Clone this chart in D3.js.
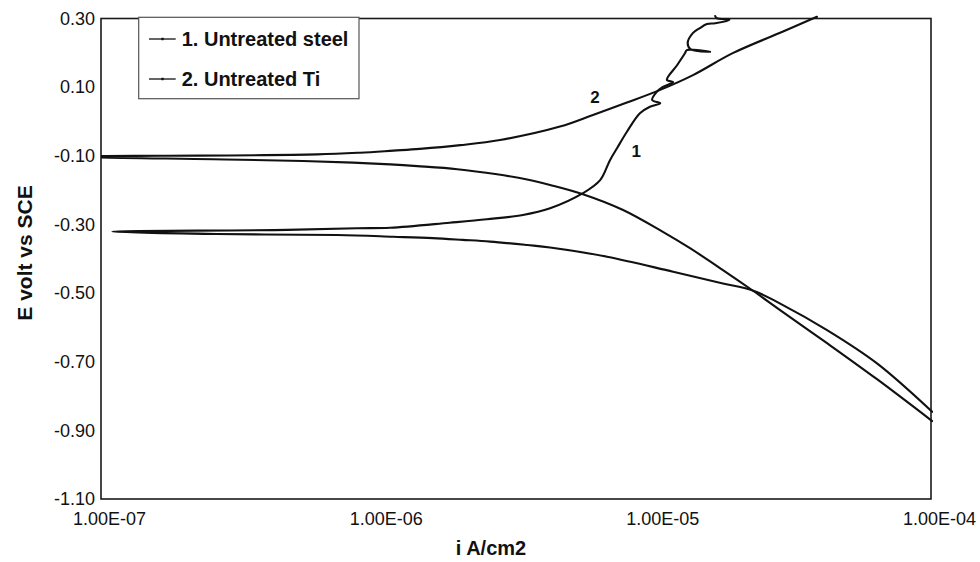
<!DOCTYPE html>
<html>
<head>
<meta charset="utf-8">
<script src="https://cdn.jsdelivr.net/npm/d3@7"></script>
<style>
  html, body { margin: 0; padding: 0; background: #fff; }
  svg { display: block; font-family: "Liberation Sans", Arial, Helvetica, sans-serif; }
</style>
</head>
<body>
<svg id="chart" width="980" height="562"></svg>
<script>
// Potentiodynamic polarization curves: current density (A/cm2) vs potential (V vs SCE)

// 1. Untreated steel: scan from cathodic to anodic
const steelCurrent = [
  1.01e-4, 6.38e-5, 4.21e-5, 2.84e-5, 2.28e-5, 1.77e-5, 1.17e-5, 6.75e-6, 4.20e-6, 3.47e-6,
  2.55e-6, 2.03e-6, 1.58e-6, 1.14e-6, 7.13e-7, 2.62e-7, 1.10e-7,
  4.70e-7, 8.41e-7, 1.11e-6, 1.82e-6, 2.48e-6, 3.35e-6, 4.20e-6, 5.52e-6, 6.37e-6,
  6.92e-6, 7.33e-6, 7.96e-6, 8.87e-6, 9.64e-6, 1.05e-5, 9.82e-6, 1.02e-5, 1.07e-5, 1.17e-5,
  1.11e-5, 1.21e-5, 1.29e-5, 1.31e-5, 1.59e-5, 1.35e-5, 1.32e-5, 1.38e-5, 1.46e-5, 1.55e-5,
  1.66e-5, 1.87e-5, 1.68e-5, 1.66e-5
];
const steelPotential = [
  -0.846, -0.705, -0.608, -0.530, -0.493, -0.472, -0.438, -0.394, -0.367, -0.360,
  -0.350, -0.345, -0.340, -0.336, -0.331, -0.328, -0.321,
  -0.316, -0.311, -0.3095, -0.295, -0.285, -0.2725, -0.253, -0.209, -0.171,
  -0.112, -0.078, -0.030, 0.024, 0.043, 0.053, 0.0625, 0.086, 0.100, 0.115,
  0.121, 0.1645, 0.1986, 0.208, 0.203, 0.211, 0.229, 0.258, 0.272, 0.284,
  0.286, 0.296, 0.301, 0.307
];

// 2. Untreated Ti: scan from cathodic to anodic
const tiCurrent = [
  1.01e-4, 6.38e-5, 4.21e-5, 2.84e-5, 2.28e-5, 1.77e-5, 1.35e-5, 1.07e-5, 7.71e-6, 5.52e-6,
  4.20e-6, 3.47e-6, 2.70e-6, 1.94e-6, 1.39e-6, 1.11e-6, 8.15e-7, 5.37e-7, 2.54e-7, 1.00e-7,
  9.00e-8,
  1.00e-7, 1.67e-7, 6.04e-7, 8.63e-7, 1.14e-6, 1.42e-6, 1.99e-6, 2.77e-6, 4.56e-6, 6.00e-6,
  7.96e-6, 1.05e-5, 1.38e-5, 1.92e-5, 2.92e-5, 3.87e-5
];
const tiPotential = [
  -0.873, -0.751, -0.646, -0.549, -0.494, -0.433, -0.370, -0.321, -0.258, -0.212,
  -0.185, -0.169, -0.154, -0.139, -0.130, -0.125, -0.120, -0.115, -0.110, -0.105,
  -0.103,
  -0.101, -0.100, -0.096, -0.091, -0.085, -0.080, -0.069, -0.054, -0.015, 0.019,
  0.055, 0.092, 0.135, 0.199, 0.262, 0.305
];

const seriesNames = ["1. Untreated steel", "2. Untreated Ti"];
const curveLabels = ["1", "2"];
// where each curve number sits (current, potential)
const curveLabelCurrent = [8.6e-6, 6.1e-6];
const curveLabelPotential = [-0.103, 0.053];

const xTicks = [1e-7, 1e-6, 1e-5, 1e-4];
const xTickLabels = ["1.00E-07", "1.00E-06", "1.00E-05", "1.00E-04"];
const yTicks = [0.30, 0.10, -0.10, -0.30, -0.50, -0.70, -0.90, -1.10];
const yTickLabels = ["0.30", "0.10", "-0.10", "-0.30", "-0.50", "-0.70", "-0.90", "-1.10"];

const xTitle = "i A/cm2";
const yTitle = "E volt vs SCE";

// ---- layout ----
const W = 980, H = 562;
const margin = { top: 18.5, right: 49, bottom: 63, left: 101 };
const w = W - margin.left - margin.right;
const h = H - margin.top - margin.bottom;

const svg = d3.select("#chart");
const g = svg.append("g").attr("transform", `translate(${margin.left},${margin.top})`);

const x = d3.scaleLog().domain([1e-7, 1e-4]).range([0, w]);
const y = d3.scaleLinear().domain([-1.10, 0.30]).range([h, 0]);

// clip curves to the plot area (small allowance at the top edge)
svg.append("defs").append("clipPath").attr("id", "plotClip")
  .append("rect").attr("x", 0).attr("y", -4).attr("width", w + 2).attr("height", h + 4);

// axes (labels only; the frame is drawn separately)
const xAxis = d3.axisBottom(x)
  .tickValues(xTicks)
  .tickFormat((d, i) => xTickLabels[i])
  .tickSize(0)
  .tickPadding(13.5);
const gx = g.append("g").attr("transform", `translate(0,${h})`).call(xAxis);
gx.select(".domain").remove();
gx.selectAll("text")
  .attr("dx", 8)
  .attr("font-size", 18)
  .attr("font-family", "'Liberation Sans', Arial, sans-serif")
  .attr("fill", "#111");

const yAxis = d3.axisLeft(y)
  .tickValues(yTicks)
  .tickFormat((d, i) => yTickLabels[i])
  .tickSize(0)
  .tickPadding(6);
const gy = g.append("g").call(yAxis);
gy.select(".domain").remove();
gy.selectAll("text")
  .attr("font-size", 18)
  .attr("font-family", "'Liberation Sans', Arial, sans-serif")
  .attr("fill", "#111");

// plot frame
g.append("rect")
  .attr("x", 0).attr("y", 0).attr("width", w).attr("height", h)
  .attr("fill", "none").attr("stroke", "#1a1a1a").attr("stroke-width", 1.6);

// curves
const line = d3.line()
  .x(d => x(d[0]))
  .y(d => y(d[1]))
  .curve(d3.curveCatmullRom.alpha(0.5));

const series = [
  d3.zip(steelCurrent, steelPotential),
  d3.zip(tiCurrent, tiPotential)
];

g.append("g").attr("clip-path", "url(#plotClip)")
  .selectAll("path")
  .data(series)
  .join("path")
  .attr("d", line)
  .attr("fill", "none")
  .attr("stroke", "#111")
  .attr("stroke-width", 2.1)
  .attr("stroke-linejoin", "round")
  .attr("stroke-linecap", "round");

// curve number labels
g.selectAll(".curve-label")
  .data(curveLabels)
  .join("text")
  .attr("class", "curve-label")
  .attr("x", (d, k) => x(curveLabelCurrent[k]))
  .attr("y", (d, k) => y(curveLabelPotential[k]))
  .attr("text-anchor", "middle")
  .attr("font-size", 17)
  .attr("font-weight", "bold")
  .attr("fill", "#111")
  .text(d => d);

// legend
const legend = g.append("g").attr("transform", `translate(${138.7 - margin.left},${17.3 - margin.top})`);
legend.append("rect")
  .attr("x", 0).attr("y", 0).attr("width", 220.3).attr("height", 81.4)
  .attr("fill", "#fff").attr("stroke", "#555").attr("stroke-width", 1.2);
const items = legend.selectAll(".item")
  .data(seriesNames)
  .join("g")
  .attr("class", "item")
  .attr("transform", (d, k) => `translate(0,${21.7 + k * 40})`);
items.append("line")
  .attr("x1", 10.3).attr("x2", 37).attr("y1", 0).attr("y2", 0)
  .attr("stroke", "#111").attr("stroke-width", 1.3);
items.append("rect")
  .attr("x", 22.6).attr("y", -1.2).attr("width", 2.4).attr("height", 2.4)
  .attr("fill", "#111");
items.append("text")
  .attr("x", 43)
  .attr("y", 7.3)
  .attr("font-size", 20)
  .attr("font-weight", "bold")
  .attr("fill", "#111")
  .text(d => d);

// axis titles
svg.append("text")
  .attr("transform", `translate(32,253) rotate(-90)`)
  .attr("text-anchor", "middle")
  .attr("font-size", 21)
  .attr("font-weight", "bold")
  .attr("fill", "#111")
  .text(yTitle);

svg.append("text")
  .attr("x", 491).attr("y", 555)
  .attr("text-anchor", "middle")
  .attr("font-size", 20)
  .attr("font-weight", "bold")
  .attr("fill", "#111")
  .text(xTitle);
</script>
</body>
</html>
